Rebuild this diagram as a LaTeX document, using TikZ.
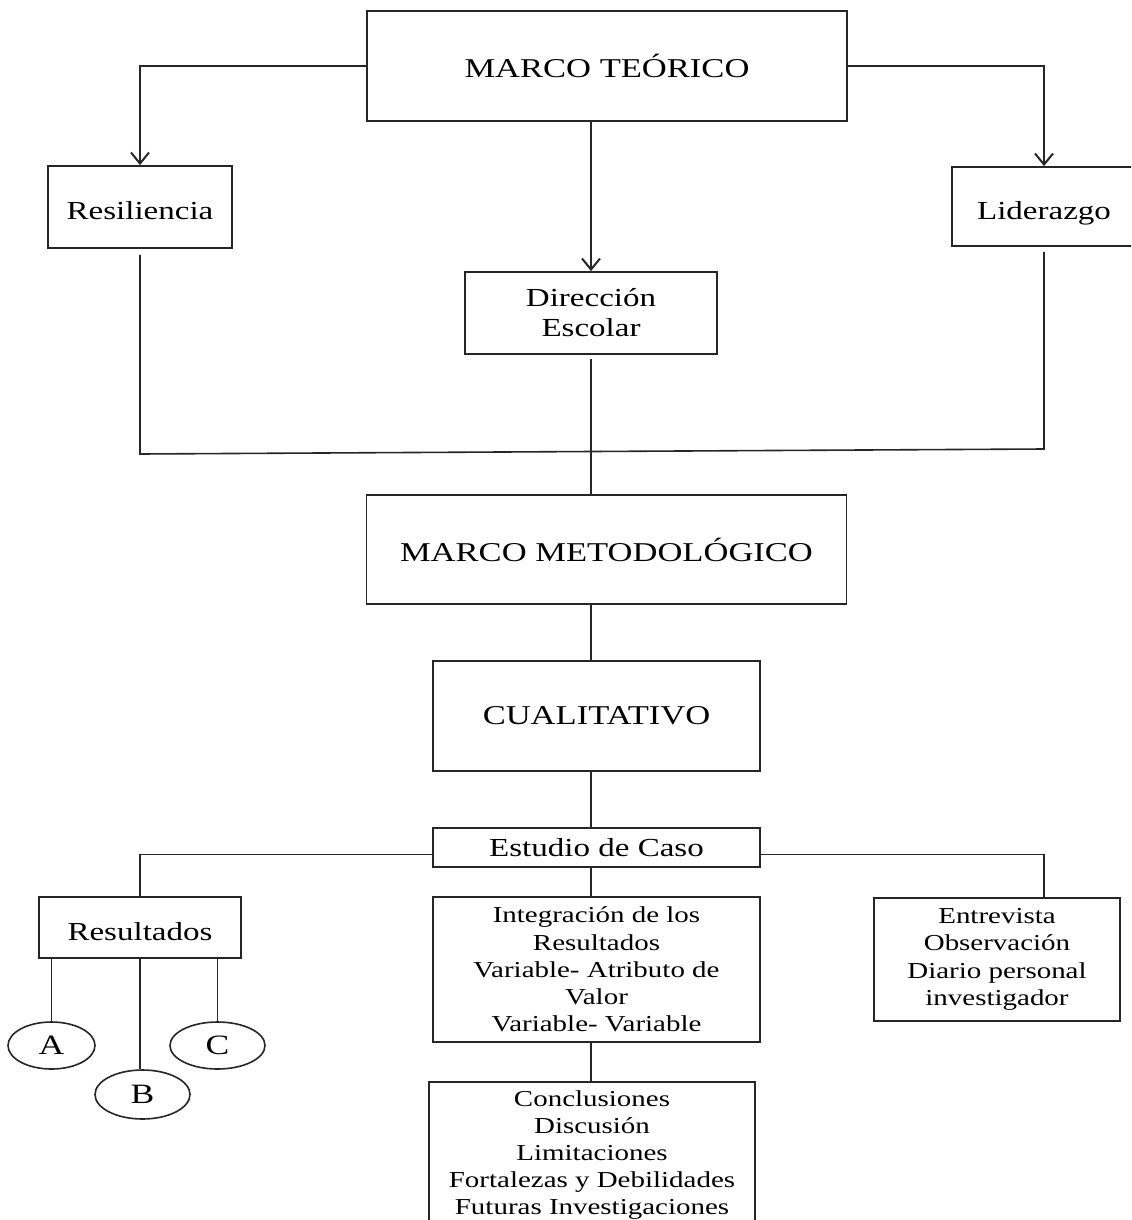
\documentclass[tikz,border=0pt]{standalone}
\usepackage{fontspec}
\setmainfont{Liberation Serif}[FakeStretch=1.27]
\usetikzlibrary{arrows.meta,shapes.geometric}
\begin{document}
\begin{tikzpicture}[x=0.5pt,y=-0.5pt,
  box/.style={draw=black!85, line width=0.9pt, inner sep=0pt, align=center, fill=white},
  caps/.style={font=\fontsize{13.6}{15}\selectfont},
  big/.style={font=\fontsize{13}{15}\selectfont},
  low/.style={text height=12.5pt, text depth=0pt},
  small/.style={font=\fontsize{11.4}{13.6}\selectfont},
  oval/.style={ellipse, draw=black!85, line width=0.8pt, inner sep=0pt, fill=white, font=\fontsize{14}{15}\selectfont},
  conn/.style={draw=black!85, line width=0.8pt},
  arr/.style={conn, -{Straight Barb[length=5.5pt,width=9pt,line width=1pt]}}]
\useasboundingbox (0,0) rectangle (1131,1220);
\clip (0,0) rectangle (1131,1220);
\fill[white] (0,0) rectangle (1131,1220);

% top level
\node[box,caps,minimum width=240pt,minimum height=55pt] (mt) at (607,66) {MARCO TEÓRICO};
\node[box,big,low,minimum width=92pt,minimum height=41pt] (res) at (140,207) {Resiliencia};
\node[box,big,low,minimum width=92pt,minimum height=39.5pt] (lid) at (1044,206.5) {Liderazgo};
\node[box,big,minimum width=126pt,minimum height=41pt] (dir) at (591,313) {Dirección\\Escolar};

\node[box,caps,minimum width=240pt,minimum height=54.5pt] (mm) at (606.5,549.5) {MARCO METODOLÓGICO};
\node[box,caps,minimum width=163.5pt,minimum height=55pt] (cual) at (596.5,716) {CUALITATIVO};
\node[box,big,minimum width=163.5pt,minimum height=19.5pt] (est) at (596.5,847.5) {Estudio de Caso};

\node[box,big,low,minimum width=101pt,minimum height=30.5pt] (res2) at (140,927.5) {Resultados};
\node[box,small,minimum width=163.5pt,minimum height=72.5pt] (int) at (596.5,969.5)
  {Integración de los\\Resultados\\Variable- Atributo de\\Valor\\Variable- Variable};
\node[box,small,minimum width=123pt,minimum height=61.5pt] (ent) at (997,959.5)
  {Entrevista\\Observación\\Diario personal\\investigador};
\node[box,small,minimum width=163pt,minimum height=73pt] (conc) at (592,1155)
  {Conclusiones\\Discusión\\Limitaciones\\Fortalezas y Debilidades\\Futuras Investigaciones};

\node[oval,minimum width=43.5pt,minimum height=23.5pt] (A) at (51.5,1045.5) {A};
\node[oval,minimum width=47.5pt,minimum height=24.5pt] (B) at (142.5,1094.5) {B};
\node[oval,minimum width=47.5pt,minimum height=23.5pt] (C) at (217.5,1045.5) {C};

\coordinate (jl) at (140,454);
\coordinate (jr) at (1044,449);

% connectors
\draw[arr] (mt.west) -| (res.north);
\draw[arr] (mt.east) -| (lid.north);
\draw[arr] (mt.south -| dir.north) -- (dir.north);
\draw[conn] ([yshift=-3pt]res.south) -- (jl) -- (jr) -- ([yshift=-2.5pt]lid.south);
\draw[conn] ([yshift=-2pt]dir.south) -- (mm.north -| dir.south);
\draw[conn] (mm.south -| dir.south) -- (cual.north -| dir.south);
\draw[conn] (cual.south -| dir.south) -- (est.north -| dir.south);
\draw[conn] ([yshift=-3.5pt]est.west) -| (res2.north);
\draw[conn] ([yshift=-3.5pt]est.east) -| (ent.north -| lid.south);
\draw[conn] (est.south -| dir.south) -- (int.north -| dir.south);
\draw[conn] (int.south -| dir.south) -- (conc.north -| dir.south);
\draw[conn] (res2.south -| A.north) -- (A.north);
\draw[conn] (res2.south) -- (res2.south |- B.north);
\draw[conn] (res2.south -| C.north) -- (C.north);
\end{tikzpicture}
\end{document}
